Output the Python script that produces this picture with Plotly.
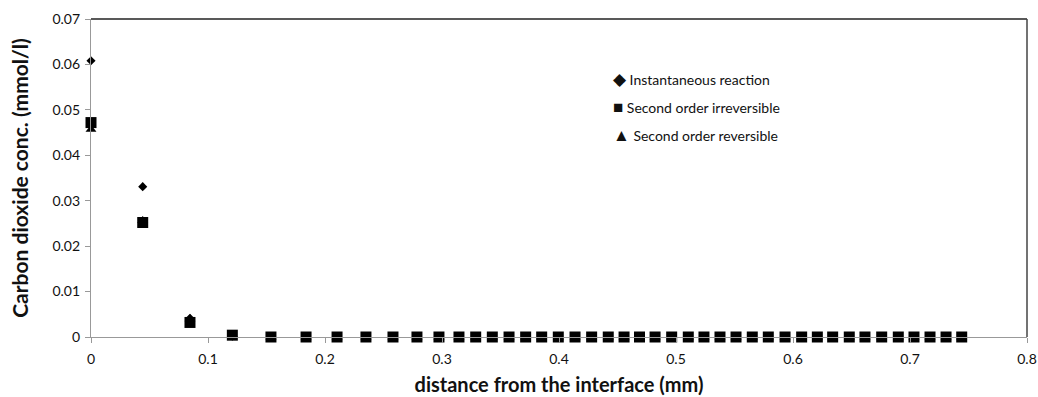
import plotly.graph_objects as go

# Distance from the gas-liquid interface (mm)
distance_mm = [
    0.0, 0.0442, 0.0846, 0.1208, 0.1538, 0.1838, 0.2103, 0.2350, 0.2581,
    0.2786, 0.2974, 0.3145, 0.3288, 0.3430, 0.3573, 0.3715, 0.3852, 0.3994,
    0.4137, 0.4279, 0.4421, 0.4556, 0.4688, 0.4821, 0.4963, 0.5105, 0.5239,
    0.5376, 0.5513, 0.5652, 0.5789, 0.5932, 0.6074, 0.6208, 0.6339, 0.6481,
    0.6615, 0.6758, 0.6900, 0.7034, 0.7171, 0.7308, 0.7442,
]

n_tail = len(distance_mm) - 4

# CO2 concentration profiles (mmol/l) for the three reaction models
instantaneous = [0.0608, 0.0331, 0.0041, 0.0002] + [0.0] * n_tail
second_irreversible = [0.0472, 0.0252, 0.0032, 0.0004] + [0.0] * n_tail
second_reversible = [0.0457, 0.0256, 0.0040, 0.0005] + [0.0] * n_tail

series_names = [
    "Instantaneous reaction",
    "Second order irreversible",
    "Second order reversible",
]
series_values = [instantaneous, second_irreversible, second_reversible]
series_symbols = ["diamond", "square", "triangle-up"]
series_sizes = [7, 11, 9.5]
legend_glyphs = ["\u25C6", "\u25A0", "\u25B2"]

x_ticks = [0, 0.1, 0.2, 0.3, 0.4, 0.5, 0.6, 0.7, 0.8]
y_ticks = [0, 0.01, 0.02, 0.03, 0.04, 0.05, 0.06, 0.07]

FONT = "Lato, 'Open Sans', sans-serif"

fig = go.Figure()
for name, vals, sym, sz in zip(series_names, series_values, series_symbols, series_sizes):
    fig.add_trace(go.Scatter(
        x=distance_mm, y=vals, mode="markers", name=name,
        marker=dict(symbol=sym, size=sz, color="black", line=dict(width=0)),
        cliponaxis=False, showlegend=False,
    ))

# Legend drawn as text rows with symbol glyphs
legend_rows_y = [0.813, 0.725, 0.636]
for glyph, name, ly in zip(legend_glyphs, series_names, legend_rows_y):
    fig.add_annotation(
        xref="paper", yref="paper", x=0.5555, y=ly, xanchor="left", yanchor="middle",
        text=f"<span style='font-size:17px'>{glyph}</span> {name}", showarrow=False,
        font=dict(family=FONT, size=14, color="#111"),
    )

# Dark frame on the top and right sides
fig.add_shape(type="line", xref="paper", yref="paper", x0=0, x1=1, y0=1, y1=1,
              line=dict(color="#222", width=1.5))
fig.add_shape(type="line", xref="paper", yref="paper", x0=1, x1=1, y0=0, y1=1,
              line=dict(color="#444", width=1.5))

fig.update_layout(
    width=1038, height=397,
    margin=dict(l=91, r=11, t=19, b=60, autoexpand=False),
    plot_bgcolor="white", paper_bgcolor="white",
    font=dict(family=FONT, color="#111"),
    xaxis=dict(
        range=[0, 0.8], tickvals=x_ticks, ticktext=[f"{v:g}" for v in x_ticks],
        showgrid=False, zeroline=False, automargin=False,
        showline=True, linecolor="#999", linewidth=1.2,
        ticks="outside", ticklen=5, tickcolor="#999",
        ticklabelstandoff=4,
        tickfont=dict(family=FONT, size=14, color="#111"),
        title=dict(text="<b>distance from the interface (mm)</b>",
                   font=dict(family=FONT, size=20, color="#111"), standoff=12),
    ),
    yaxis=dict(
        range=[0, 0.07], tickvals=y_ticks, ticktext=[f"{v:g}" for v in y_ticks],
        showgrid=False, zeroline=False, automargin=False,
        showline=True, linecolor="#999", linewidth=1.2,
        ticks="outside", ticklen=5, tickcolor="#999",
        ticklabelstandoff=2,
        tickfont=dict(family=FONT, size=14, color="#111"),
        title=dict(text="<b>Carbon dioxide conc. (mmol/l)</b>",
                   font=dict(family=FONT, size=21, color="#111"), standoff=18),
    ),
)

fig.write_html("out.html")
